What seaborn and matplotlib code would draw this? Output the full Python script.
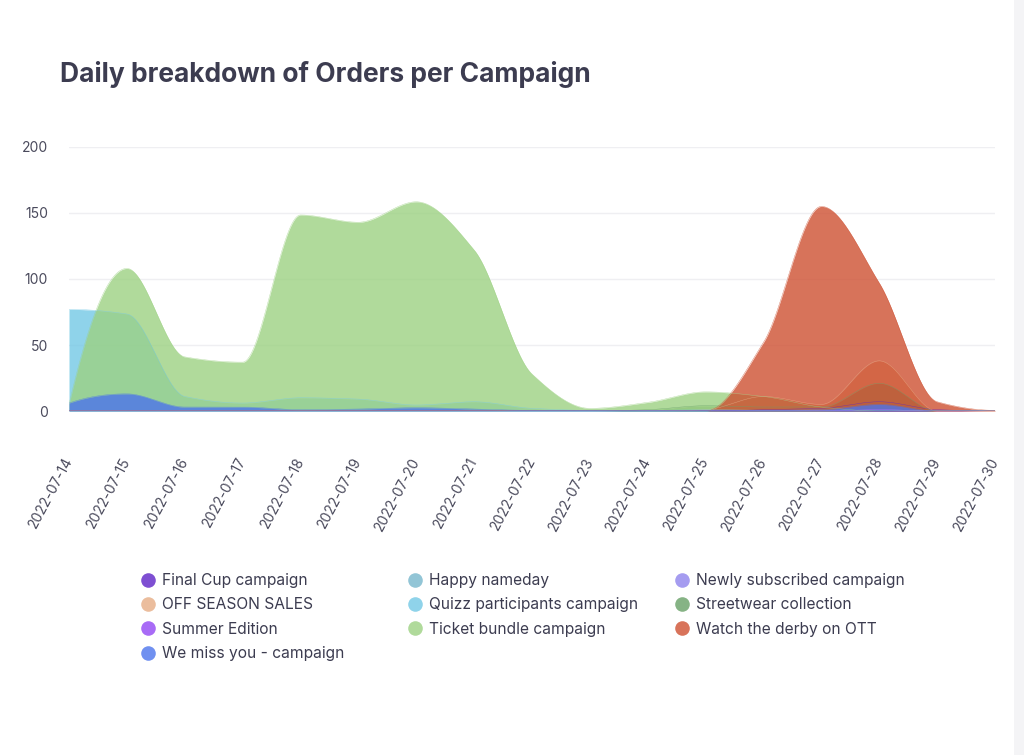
import numpy as np
import matplotlib
matplotlib.use("Agg")
import matplotlib.pyplot as plt
import seaborn as sns
from matplotlib.lines import Line2D
from matplotlib.patches import Rectangle
from matplotlib.colors import to_rgb

# ---------------- data ----------------
dates = ["2022-07-14", "2022-07-15", "2022-07-16", "2022-07-17", "2022-07-18",
         "2022-07-19", "2022-07-20", "2022-07-21", "2022-07-22", "2022-07-23",
         "2022-07-24", "2022-07-25", "2022-07-26", "2022-07-27", "2022-07-28",
         "2022-07-29", "2022-07-30"]

campaigns = ["Final Cup campaign", "Happy nameday", "Newly subscribed campaign",
             "OFF SEASON SALES", "Quizz participants campaign", "Streetwear collection",
             "Summer Edition", "Ticket bundle campaign", "Watch the derby on OTT",
             "We miss you - campaign"]

final_cup        = [0, 0, 0, 0, 0, 0, 0, 0, 0, 0, 0, 0, 1, 2, 7, 1, 0]
happy_nameday    = [0, 0, 0, 0, 0, 0, 0, 0, 0, 0, 0, 0, 0, 0, 1, 0, 0]
newly_subscribed = [0, 0, 0, 0, 0, 0, 0, 0, 0, 0, 0, 0, 0, 0, 1, 0, 0]
off_season_sales = [0, 0, 0, 0, 0, 0, 0, 0, 0, 0, 0, 1, 11, 5, 38, 0, 0]
quizz_particip   = [77, 73.5, 11, 6, 10, 9, 4.5, 7, 2, 0.5, 0.5, 1, 0.5, 0, 0, 0, 0]
streetwear       = [0, 0, 0, 0, 0, 0, 0, 0, 0, 0, 1, 4, 3, 3, 21, 0, 0]
summer_edition   = [0, 0, 0, 0, 0, 0, 0, 0, 0, 0, 0, 0, 0, 0, 1, 0, 0]
ticket_bundle    = [5, 108, 41, 37, 148.5, 143, 158.5, 122, 28, 2, 6.5, 14.5, 11, 3, 0, 0, 0]
watch_derby      = [0, 0, 0, 0, 0, 0, 0, 0, 0, 0, 0, 0, 52, 155, 97, 7, 0.5]
we_miss_you      = [6, 13, 3, 3, 1, 1.5, 2.5, 1.5, 0.5, 0.5, 0.5, 0.5, 0.5, 1, 5, 0, 0]

series = [final_cup, happy_nameday, newly_subscribed, off_season_sales, quizz_particip,
          streetwear, summer_edition, ticket_bundle, watch_derby, we_miss_you]

y_ticks = [0, 50, 100, 150, 200]

# ---------------- style ----------------
legend_colors = ["#7e4fd2", "#92c5d6", "#a59cf0", "#ebbd9d", "#8fd3ea",
                 "#86b385", "#a86bf6", "#b0da9b", "#d8735a", "#7090f0"]
ALPHA = 0.8


def base_color(hex_color):
    # colour that, drawn with ALPHA over white, gives the legend colour
    rgb = np.array(to_rgb(hex_color))
    return tuple(np.clip((rgb - (1 - ALPHA)) / ALPHA, 0, 1))


def pchip(y, xs):
    """Monotone cubic (Fritsch-Carlson) curve through the daily values, for smooth drawing."""
    y = np.asarray(y, dtype=float)
    n = len(y)
    delta = np.diff(y)
    d = np.zeros(n)
    for k in range(1, n - 1):
        if delta[k - 1] * delta[k] > 0:
            d[k] = 2.0 / (1.0 / delta[k - 1] + 1.0 / delta[k])

    def end_slope(d0, d1):
        s = (3 * d0 - d1) / 2.0
        if np.sign(s) != np.sign(d0):
            return 0.0
        if np.sign(d0) != np.sign(d1) and abs(s) > abs(3 * d0):
            return 3 * d0
        return s
    d[0] = end_slope(delta[0], delta[1])
    d[-1] = end_slope(delta[-1], delta[-2])
    k = np.clip(np.floor(xs).astype(int), 0, n - 2)
    t = xs - k
    h00 = 2 * t**3 - 3 * t**2 + 1
    h10 = t**3 - 2 * t**2 + t
    h01 = -2 * t**3 + 3 * t**2
    h11 = t**3 - t**2
    out = h00 * y[k] + h10 * d[k] + h01 * y[k + 1] + h11 * d[k + 1]
    return np.clip(out, 0, None)


sns.set_theme(style="white")
plt.rcParams['font.family'] = ['Inter', 'DejaVu Sans']

fig = plt.figure(figsize=(10.24, 7.55), dpi=100)
fig.patch.set_facecolor("white")
ax = fig.add_axes([69 / 1024, 1 - 411 / 755, (995 - 69) / 1024, (411 - 147) / 755])

x_days = np.arange(len(dates))
xs = np.linspace(0, len(dates) - 1, 1601)

for name, vals, col in zip(campaigns, series, legend_colors):
    ys = pchip(vals, xs)
    bc = base_color(col)
    ax.fill_between(xs, 0, ys, color=bc, alpha=ALPHA, linewidth=0)
    sns.lineplot(x=xs, y=ys, ax=ax, color=bc, alpha=ALPHA, linewidth=0.3, legend=False)

ax.set_xlim(0, len(dates) - 1)
ax.set_ylim(0, 200)
ax.set_yticks(y_ticks)
ax.set_yticklabels([str(v) for v in y_ticks])
ax.set_xticks(x_days)
ax.set_xticklabels(dates, rotation=62, ha="right", va="center", rotation_mode="anchor")
ax.grid(axis="y", color="#efeff2", linewidth=1)
ax.grid(axis="x", visible=False)
ax.set_axisbelow(True)
for s in ax.spines.values():
    s.set_visible(False)
ax.tick_params(axis="y", length=0, pad=15, labelsize=10, labelcolor="#4a4a5c")
ax.tick_params(axis="x", length=0, pad=34, labelsize=10, labelcolor="#4a4a5c")
ax.set_xlabel("")
ax.set_ylabel("")

fig.text(60 / 1024, 1 - 82 / 755, "Daily breakdown of Orders per Campaign",
         fontsize=19, fontweight="bold", color="#3c3c50", ha="left", va="baseline")

# legend: three fixed-width columns, row-major order
col_x = [148, 415, 682]
columns = [[0, 3, 6, 9], [1, 4, 7], [2, 5, 8]]
fs = 11.2
fs_px = fs * 100 / 72
for cx, idxs in zip(col_x, columns):
    handles = [Line2D([], [], linestyle="none", marker="o", markersize=10.5,
                      markerfacecolor=legend_colors[i], markeredgewidth=0)
               for i in idxs]
    labels = [campaigns[i] for i in idxs]
    left = (cx - fs_px / 2) / 1024
    leg = fig.legend(handles, labels, loc="upper left",
                     bbox_to_anchor=(left, 1 - 573 / 755), frameon=False,
                     fontsize=fs, handlelength=1.0, handletextpad=0.42,
                     labelspacing=0.6, borderpad=0, borderaxespad=0)
    for t in leg.get_texts():
        t.set_color("#3c3c50")

# page edge strip on the right
fig.patches.append(Rectangle((1014 / 1024, 0), 10 / 1024, 1, transform=fig.transFigure,
                             facecolor="#f4f4f6", edgecolor="none", zorder=-1))

fig.savefig("out.png", dpi=100)
